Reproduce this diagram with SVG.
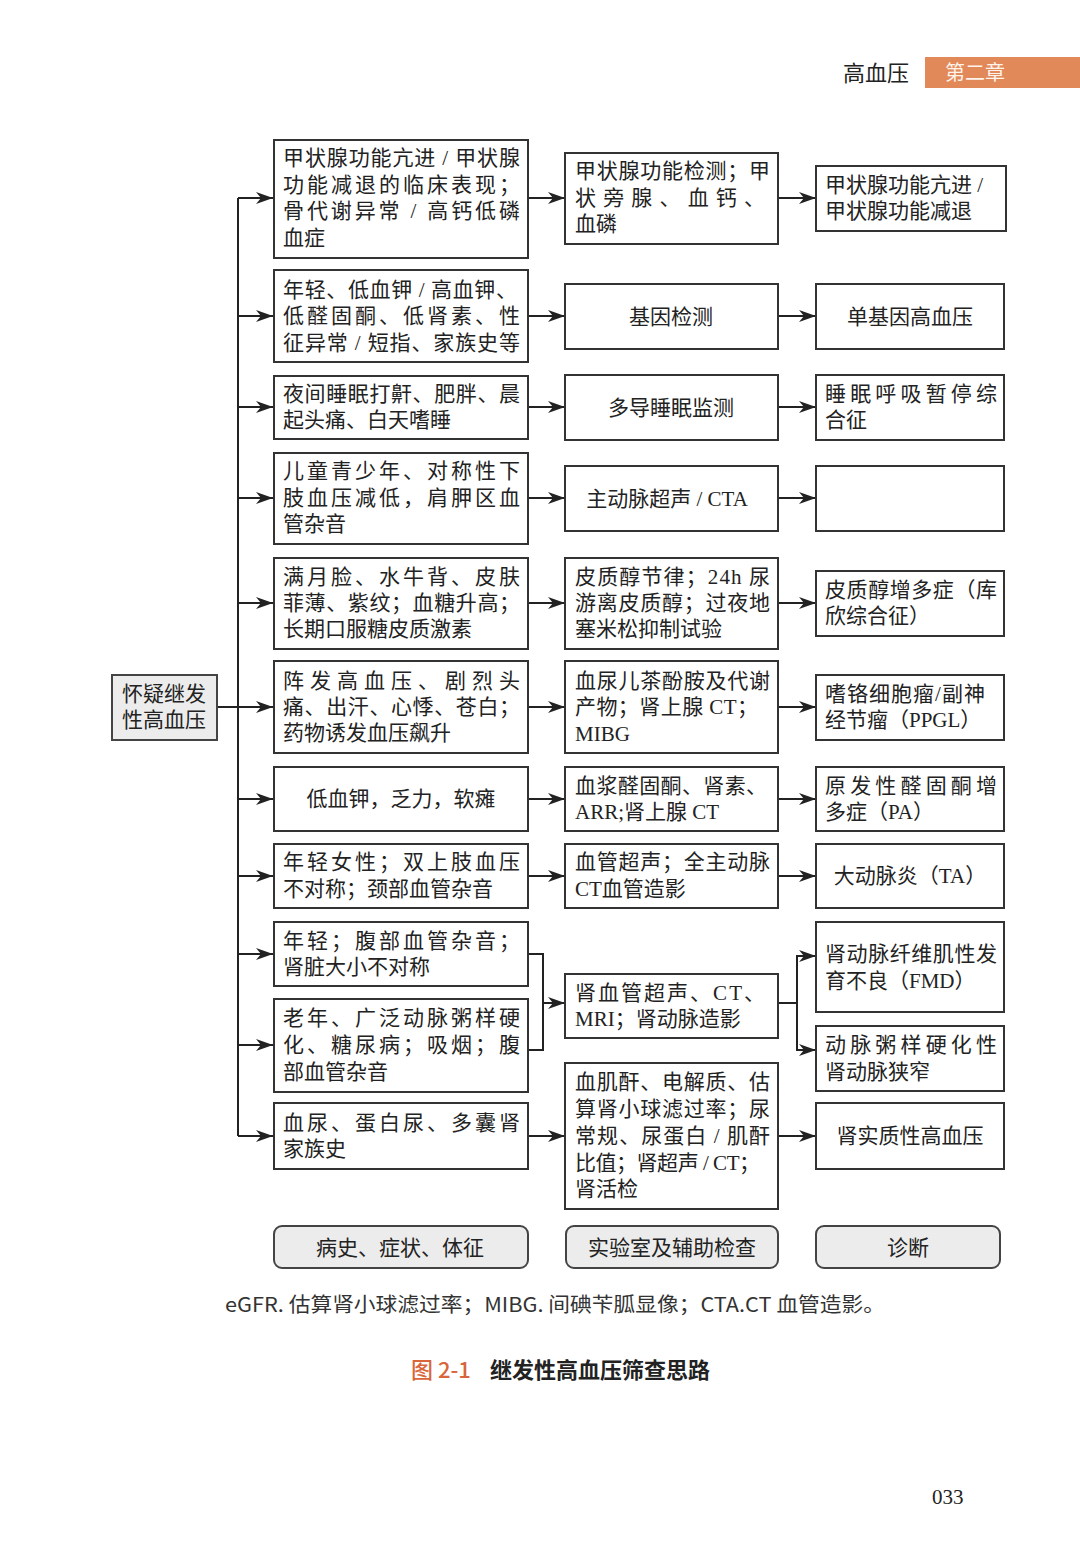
<svg xmlns="http://www.w3.org/2000/svg" width="1080" height="1566" viewBox="0 0 1080 1566">
<style>
.bx{fill:#fff;stroke:#333;stroke-width:2}
.gb{fill:#ececec;stroke:#444;stroke-width:2}
.t{font-family:"Liberation Serif","Noto Sans CJK SC",serif;font-size:21px;fill:#222}
.c{text-anchor:middle}
.ln{fill:none;stroke:#222;stroke-width:2;marker-end:url(#ah)}
.pl{fill:none;stroke:#222;stroke-width:2}
</style>
<defs>
<marker id="ah" markerUnits="userSpaceOnUse" markerWidth="18" markerHeight="14" refX="17" refY="6" orient="auto">
<path d="M0,0 L17,6 L0,12 L5,6 z" fill="#222"/>
</marker>
</defs>
<rect width="1080" height="1566" fill="#fff"/>

<g id="header">
<text class="t" x="843" y="81" style="font-size:22px">高血压</text>
<rect x="925" y="57" width="155" height="31" fill="#e2895a"/>
<text class="t" x="945" y="80" style="font-size:20px;fill:#fff3ea">第二章</text>
</g>

<g id="connectors">
<path class="pl" d="M238,198 V1136"/>
<path class="ln" d="M217,707 H273"/>
<path class="ln" d="M238,198 H273"/>
<path class="ln" d="M238,316 H273"/>
<path class="ln" d="M238,407 H273"/>
<path class="ln" d="M238,498 H273"/>
<path class="ln" d="M238,603 H273"/>
<path class="ln" d="M238,799 H273"/>
<path class="ln" d="M238,876 H273"/>
<path class="ln" d="M238,954 H273"/>
<path class="ln" d="M238,1045 H273"/>
<path class="ln" d="M238,1136 H273"/>

<path class="ln" d="M528,198 H565"/>
<path class="ln" d="M528,316 H565"/>
<path class="ln" d="M528,407 H565"/>
<path class="ln" d="M528,498 H565"/>
<path class="ln" d="M528,603 H565"/>
<path class="ln" d="M528,707 H565"/>
<path class="ln" d="M528,799 H565"/>
<path class="ln" d="M528,876 H565"/>
<path class="pl" d="M528,954 H543 V1050 H528"/>
<path class="ln" d="M543,1003 H565"/>
<path class="ln" d="M528,1136 H565"/>

<path class="ln" d="M778,198 H816"/>
<path class="ln" d="M778,316 H816"/>
<path class="ln" d="M778,407 H816"/>
<path class="ln" d="M778,498 H816"/>
<path class="ln" d="M778,603 H816"/>
<path class="ln" d="M778,707 H816"/>
<path class="ln" d="M778,799 H816"/>
<path class="ln" d="M778,876 H816"/>
<path class="pl" d="M778,1003 H797"/>
<path class="ln" d="M797,1003 V956 H816"/>
<path class="ln" d="M797,1003 V1050 H816"/>
<path class="ln" d="M778,1136 H816"/>
</g>

<g id="n-start">
<rect class="gb" x="112" y="675" width="105" height="65"/>
<text class="t" x="122" y="701">怀疑继发</text>
<text class="t" x="122" y="727">性高血压</text>
</g>

<g id="a1">
<rect class="bx" x="274" y="140" width="254" height="118"/>
<text class="t" x="283" y="165" textLength="237" lengthAdjust="spacing">甲状腺功能亢进 / 甲状腺</text>
<text class="t" x="283" y="192" textLength="237" lengthAdjust="spacing">功能减退的临床表现；</text>
<text class="t" x="283" y="218" textLength="237" lengthAdjust="spacing">骨代谢异常 / 高钙低磷</text>
<text class="t" x="283" y="245">血症</text>
</g>
<g id="a2">
<rect class="bx" x="274" y="270" width="254" height="92"/>
<text class="t" x="283" y="297" textLength="234" lengthAdjust="spacing">年轻、低血钾 / 高血钾、</text>
<text class="t" x="283" y="323" textLength="237" lengthAdjust="spacing">低醛固酮、低肾素、性</text>
<text class="t" x="283" y="350" textLength="237" lengthAdjust="spacing">征异常 / 短指、家族史等</text>
</g>
<g id="a3">
<rect class="bx" x="274" y="376" width="254" height="63"/>
<text class="t" x="283" y="401" textLength="237" lengthAdjust="spacing">夜间睡眠打鼾、肥胖、晨</text>
<text class="t" x="283" y="427">起头痛、白天嗜睡</text>
</g>
<g id="a4">
<rect class="bx" x="274" y="453" width="254" height="91"/>
<text class="t" x="283" y="478" textLength="237" lengthAdjust="spacing">儿童青少年、对称性下</text>
<text class="t" x="283" y="505" textLength="237" lengthAdjust="spacing">肢血压减低，肩胛区血</text>
<text class="t" x="283" y="531">管杂音</text>
</g>
<g id="a5">
<rect class="bx" x="274" y="558" width="254" height="91"/>
<text class="t" x="283" y="584" textLength="237" lengthAdjust="spacing">满月脸、水牛背、皮肤</text>
<text class="t" x="283" y="610" textLength="237" lengthAdjust="spacing">菲薄、紫纹；血糖升高；</text>
<text class="t" x="283" y="636">长期口服糖皮质激素</text>
</g>
<g id="a6">
<rect class="bx" x="274" y="661" width="254" height="92"/>
<text class="t" x="283" y="688" textLength="237" lengthAdjust="spacing">阵发高血压、剧烈头</text>
<text class="t" x="283" y="714" textLength="237" lengthAdjust="spacing">痛、出汗、心悸、苍白；</text>
<text class="t" x="283" y="740">药物诱发血压飙升</text>
</g>
<g id="a7">
<rect class="bx" x="274" y="767" width="254" height="64"/>
<text class="t c" x="401" y="806">低血钾，乏力，软瘫</text>
</g>
<g id="a8">
<rect class="bx" x="274" y="844" width="254" height="64"/>
<text class="t" x="283" y="869" textLength="237" lengthAdjust="spacing">年轻女性；双上肢血压</text>
<text class="t" x="283" y="896">不对称；颈部血管杂音</text>
</g>
<g id="a9">
<rect class="bx" x="274" y="922" width="254" height="64"/>
<text class="t" x="283" y="948" textLength="237" lengthAdjust="spacing">年轻；腹部血管杂音；</text>
<text class="t" x="283" y="974">肾脏大小不对称</text>
</g>
<g id="a10">
<rect class="bx" x="274" y="999" width="254" height="93"/>
<text class="t" x="283" y="1025" textLength="237" lengthAdjust="spacing">老年、广泛动脉粥样硬</text>
<text class="t" x="283" y="1052" textLength="237" lengthAdjust="spacing">化、糖尿病；吸烟；腹</text>
<text class="t" x="283" y="1079">部血管杂音</text>
</g>
<g id="a11">
<rect class="bx" x="274" y="1103" width="254" height="66"/>
<text class="t" x="283" y="1130" textLength="237" lengthAdjust="spacing">血尿、蛋白尿、多囊肾</text>
<text class="t" x="283" y="1156">家族史</text>
</g>

<g id="b1">
<rect class="bx" x="565" y="153" width="213" height="91"/>
<text class="t" x="575" y="178" textLength="195" lengthAdjust="spacing">甲状腺功能检测；甲</text>
<text class="t" x="575" y="205" textLength="190" lengthAdjust="spacing">状旁腺、血钙、</text>
<text class="t" x="575" y="231">血磷</text>
</g>
<g id="b2">
<rect class="bx" x="565" y="284" width="213" height="65"/>
<text class="t c" x="671" y="324">基因检测</text>
</g>
<g id="b3">
<rect class="bx" x="565" y="375" width="213" height="65"/>
<text class="t c" x="671" y="415">多导睡眠监测</text>
</g>
<g id="b4">
<rect class="bx" x="565" y="466" width="213" height="65"/>
<text class="t c" x="667" y="506">主动脉超声 / CTA</text>
</g>
<g id="b5">
<rect class="bx" x="565" y="558" width="213" height="91"/>
<text class="t" x="575" y="584" textLength="195" lengthAdjust="spacing">皮质醇节律；24h 尿</text>
<text class="t" x="575" y="610" textLength="195" lengthAdjust="spacing">游离皮质醇；过夜地</text>
<text class="t" x="575" y="636">塞米松抑制试验</text>
</g>
<g id="b6">
<rect class="bx" x="565" y="661" width="213" height="92"/>
<text class="t" x="575" y="688" textLength="195" lengthAdjust="spacing">血尿儿茶酚胺及代谢</text>
<text class="t" x="575" y="714" textLength="183" lengthAdjust="spacing">产物；肾上腺 CT；</text>
<text class="t" x="575" y="741">MIBG</text>
</g>
<g id="b7">
<rect class="bx" x="565" y="767" width="213" height="64"/>
<text class="t" x="575" y="793" textLength="192" lengthAdjust="spacing">血浆醛固酮、肾素、</text>
<text class="t" x="575" y="819">ARR;肾上腺 CT</text>
</g>
<g id="b8">
<rect class="bx" x="565" y="844" width="213" height="64"/>
<text class="t" x="575" y="869" textLength="195" lengthAdjust="spacing">血管超声；全主动脉</text>
<text class="t" x="575" y="896">CT血管造影</text>
</g>
<g id="b9">
<rect class="bx" x="565" y="974" width="213" height="64"/>
<text class="t" x="575" y="1000" textLength="190" lengthAdjust="spacing">肾血管超声、CT、</text>
<text class="t" x="575" y="1026">MRI；肾动脉造影</text>
</g>
<g id="b11">
<rect class="bx" x="565" y="1063" width="213" height="146"/>
<text class="t" x="575" y="1089" textLength="195" lengthAdjust="spacing">血肌酐、电解质、估</text>
<text class="t" x="575" y="1116" textLength="195" lengthAdjust="spacing">算肾小球滤过率；尿</text>
<text class="t" x="575" y="1143" textLength="195" lengthAdjust="spacing">常规、尿蛋白 / 肌酐</text>
<text class="t" x="575" y="1170" textLength="185" lengthAdjust="spacing">比值；肾超声 / CT；</text>
<text class="t" x="575" y="1196">肾活检</text>
</g>

<g id="c1">
<rect class="bx" x="816" y="166" width="190" height="65"/>
<text class="t" x="825" y="192">甲状腺功能亢进 /</text>
<text class="t" x="825" y="218">甲状腺功能减退</text>
</g>
<g id="c2">
<rect class="bx" x="816" y="284" width="188" height="65"/>
<text class="t c" x="910" y="324">单基因高血压</text>
</g>
<g id="c3">
<rect class="bx" x="816" y="375" width="188" height="65"/>
<text class="t" x="825" y="401" textLength="172" lengthAdjust="spacing">睡眠呼吸暂停综</text>
<text class="t" x="825" y="427">合征</text>
</g>
<g id="c4">
<rect class="bx" x="816" y="466" width="188" height="65"/>
</g>
<g id="c5">
<rect class="bx" x="816" y="571" width="188" height="65"/>
<text class="t" x="825" y="597" textLength="172" lengthAdjust="spacing">皮质醇增多症（库</text>
<text class="t" x="825" y="623">欣综合征）</text>
</g>
<g id="c6">
<rect class="bx" x="816" y="675" width="188" height="65"/>
<text class="t" x="825" y="701" textLength="160" lengthAdjust="spacing">嗜铬细胞瘤/副神</text>
<text class="t" x="825" y="727">经节瘤（PPGL）</text>
</g>
<g id="c7">
<rect class="bx" x="816" y="767" width="188" height="64"/>
<text class="t" x="825" y="793" textLength="172" lengthAdjust="spacing">原发性醛固酮增</text>
<text class="t" x="825" y="819">多症（PA）</text>
</g>
<g id="c8">
<rect class="bx" x="816" y="844" width="188" height="64"/>
<text class="t c" x="910" y="883">大动脉炎（TA）</text>
</g>
<g id="c9">
<rect class="bx" x="816" y="922" width="188" height="90"/>
<text class="t" x="825" y="961" textLength="172" lengthAdjust="spacing">肾动脉纤维肌性发</text>
<text class="t" x="825" y="988">育不良（FMD）</text>
</g>
<g id="c10">
<rect class="bx" x="816" y="1026" width="188" height="65"/>
<text class="t" x="825" y="1052" textLength="172" lengthAdjust="spacing">动脉粥样硬化性</text>
<text class="t" x="825" y="1079">肾动脉狭窄</text>
</g>
<g id="c11">
<rect class="bx" x="816" y="1103" width="188" height="66"/>
<text class="t c" x="910" y="1143">肾实质性高血压</text>
</g>

<g id="legend1">
<rect class="gb" x="274" y="1226" width="254" height="42" rx="8"/>
<text class="t c" x="400" y="1255">病史、症状、体征</text>
</g>
<g id="legend2">
<rect class="gb" x="566" y="1226" width="212" height="42" rx="8"/>
<text class="t c" x="672" y="1255">实验室及辅助检查</text>
</g>
<g id="legend3">
<rect class="gb" x="816" y="1226" width="184" height="42" rx="8"/>
<text class="t c" x="908" y="1255">诊断</text>
</g>

<g id="notes">
<text x="225" y="1312" textLength="660" lengthAdjust="spacingAndGlyphs" style="font-family:'Noto Sans CJK SC','Noto Sans',sans-serif;font-size:20px;fill:#333">eGFR. 估算肾小球滤过率；MIBG. 间碘苄胍显像；CTA.CT 血管造影。</text>
<text x="411" y="1378" style="font-family:'Noto Sans CJK SC','Noto Sans',sans-serif;font-size:22px;font-weight:500;fill:#d9653a">图 2-1</text>
<text x="490" y="1378" style="font-family:'Noto Sans CJK SC','Noto Sans',sans-serif;font-size:22px;font-weight:bold;fill:#222">继发性高血压筛查思路</text>
<text x="932" y="1504" style="font-family:'Liberation Serif',serif;font-size:21px;fill:#222">033</text>
</g>
</svg>
